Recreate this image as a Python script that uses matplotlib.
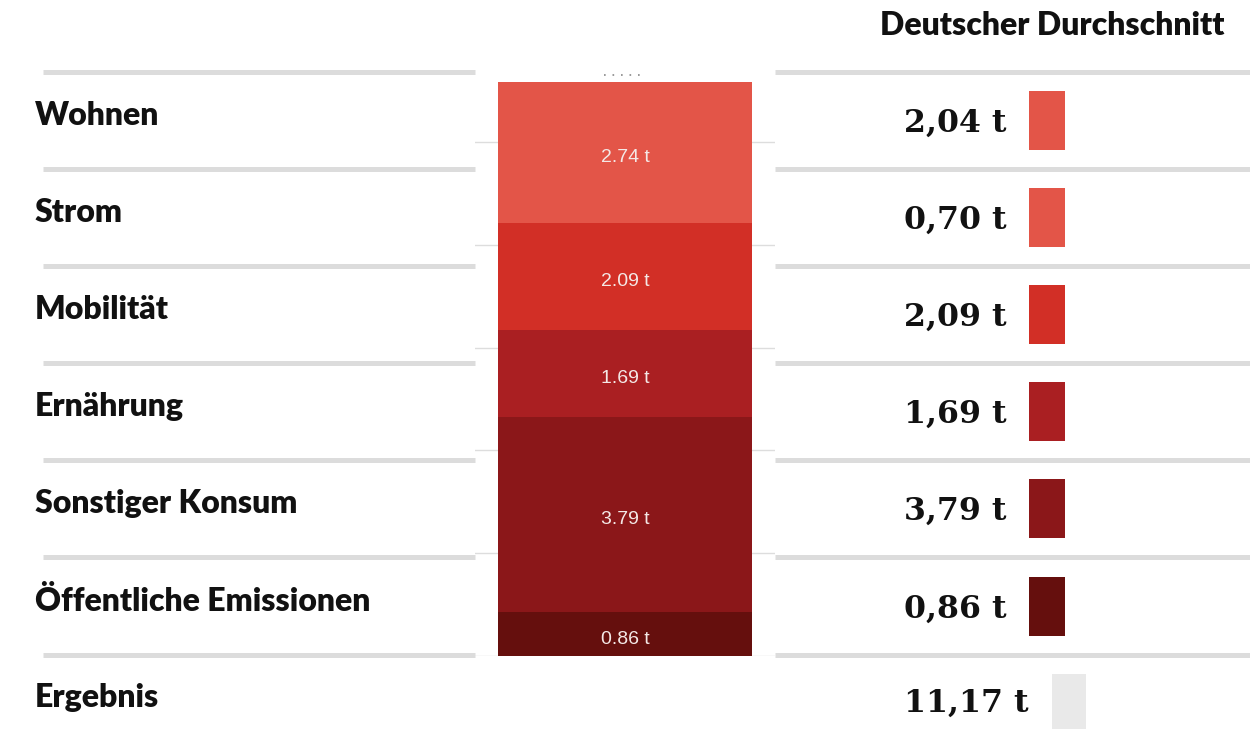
import matplotlib
matplotlib.use("Agg")
import matplotlib.pyplot as plt
from matplotlib.patches import Rectangle

# ---- data ----
categories = ["Wohnen", "Strom", "Mobilität", "Ernährung", "Sonstiger Konsum", "Öffentliche Emissionen"]
avg_values = [2.04, 0.70, 2.09, 1.69, 3.79, 0.86]
avg_labels = ["2,04 t", "0,70 t", "2,09 t", "1,69 t", "3,79 t", "0,86 t"]
cat_colors = ["#E35548", "#E35548", "#D22F26", "#AA1F22", "#8B1719", "#650F0D"]
total_label = "Ergebnis"
total_value = 11.17
total_text = "11,17 t"

stack_values = [2.74, 2.09, 1.69, 3.79, 0.86]          # top to bottom
stack_labels = ["2.74 t", "2.09 t", "1.69 t", "3.79 t", "0.86 t"]
stack_colors = ["#E35548", "#D22F26", "#AA1F22", "#8B1719", "#650F0D"]
grid_ticks = [0, 2, 4, 6, 8, 10]
header = "Deutscher Durchschnitt"

W, H = 1250, 729
fig = plt.figure(figsize=(W / 100, H / 100), dpi=100)

# layout axes in pixel coordinates
lay = fig.add_axes([0, 0, 1, 1])
lay.set_xlim(0, W)
lay.set_ylim(H, 0)
lay.axis("off")

line_col = "#DCDCDC"
row_lines = [72, 169, 266, 363, 460, 557, 655]
for y in row_lines:
    lay.plot([43, 475], [y, y], color=line_col, lw=3.6, solid_capstyle="butt", zorder=1)
    lay.plot([775, 1250], [y, y], color=line_col, lw=3.6, solid_capstyle="butt", zorder=1)

label_font = dict(family="Lato", weight="heavy", size=23, color="#111111")
value_font = dict(family="DejaVu Serif", weight="bold", size=22.8, color="#111111")

lay.text(1225, 25, header, ha="right", va="center", family="Lato", weight="heavy",
         size=23, color="#111111")

for i, (cat, lab, col) in enumerate(zip(categories, avg_labels, cat_colors)):
    top, bot = row_lines[i], row_lines[i + 1]
    yc = (top + bot) / 2
    lay.text(35, yc - 5, cat, ha="left", va="center", **label_font)
    lay.text(1007, yc + 3, lab, ha="right", va="center", **value_font)
    lay.add_patch(Rectangle((1029, yc - 29.5), 36, 59, facecolor=col, edgecolor="none", zorder=2))

lay.text(35, 697, total_label, ha="left", va="center", **label_font)
lay.text(1029, 703, total_text, ha="right", va="center", **value_font)
lay.add_patch(Rectangle((1052, 674), 34, 55, facecolor="#E9E9E9", edgecolor="none", zorder=2))

# small dotted mark above the bar
lay.plot([604, 641], [74.5, 74.5], color="#888888", lw=1.2, ls=(0, (1, 4.1)), zorder=2)

# stacked bar axes
bx = fig.add_axes([475 / W, (H - 656) / H, 300 / W, (656 - 82) / H])
bx.set_xlim(-0.5, 0.5)
bx.set_ylim(0, total_value)
bx.axis("off")
for t in grid_ticks:
    bx.axhline(t, color="#DDDDDD", lw=1.0, zorder=0)

bottom = 0.0
segs = list(zip(stack_values, stack_labels, stack_colors))[::-1]
for val, lab, col in segs:
    bx.bar(0, val, bottom=bottom, width=254 / 300, color=col, edgecolor="none", zorder=2)
    bx.text(0, bottom + val / 2 - 0.1, lab, ha="center", va="center", family="Liberation Sans",
            size=14, color="#F4E8E6", zorder=3)
    bottom += val

fig.savefig("out.png", dpi=100)
